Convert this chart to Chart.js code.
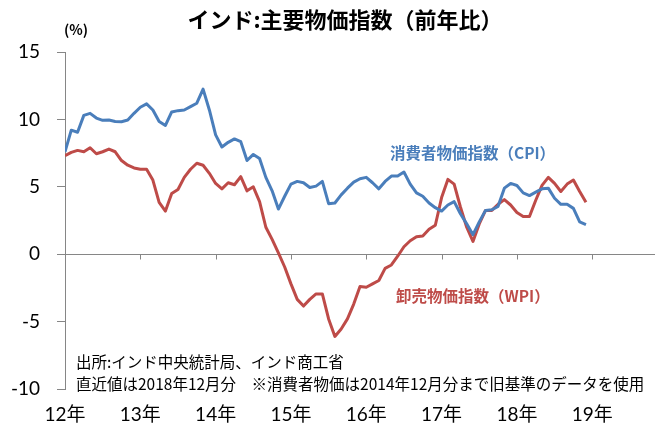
<!DOCTYPE html>
<html>
<head>
<meta charset="utf-8">
<script src="https://cdn.jsdelivr.net/npm/chart.js@4.4.0/dist/chart.umd.min.js"></script>
<style>
  html, body { margin: 0; padding: 0; background: #fff; }
</style>
</head>
<body>
<canvas id="chart" width="661" height="429"></canvas>
<script>
// 月次データ 2012年1月〜2018年12月（前年比、%）
const yearTicks = [0, 12, 24, 36, 48, 60, 72, 84];
const yearLabels = ['12年', '13年', '14年', '15年', '16年', '17年', '18年', '19年'];

const cpi = [
  7.6, 9.2, 9.05, 10.3, 10.45, 10.1, 9.93, 9.95, 9.85, 9.83, 9.95, 10.45,
  10.9, 11.15, 10.7, 9.85, 9.55, 10.55, 10.65, 10.7, 10.95, 11.2, 12.25, 10.7,
  8.85, 7.95, 8.3, 8.55, 8.35, 6.95, 7.4, 7.1, 5.7, 4.7, 3.35, 4.3,
  5.2, 5.4, 5.3, 4.95, 5.05, 5.4, 3.75, 3.8, 4.4, 4.9, 5.35, 5.6,
  5.7, 5.3, 4.85, 5.4, 5.8, 5.8, 6.1, 5.2, 4.55, 4.3, 3.8, 3.45,
  3.2, 3.65, 3.9, 3.0, 2.25, 1.45, 2.4, 3.25, 3.3, 3.55, 4.9, 5.25,
  5.1, 4.55, 4.35, 4.6, 4.85, 4.9, 4.15, 3.7, 3.7, 3.4, 2.4, 2.2
];
const wpi = [
  7.3, 7.55, 7.7, 7.6, 7.9, 7.45, 7.6, 7.8, 7.6, 6.95, 6.6, 6.4,
  6.3, 6.3, 5.5, 3.85, 3.2, 4.5, 4.8, 5.7, 6.3, 6.75, 6.6, 6.0,
  5.25, 4.85, 5.3, 5.15, 5.75, 4.7, 5.0, 3.9, 2.0, 1.1, 0.1, -0.95,
  -2.2, -3.35, -3.85, -3.35, -2.95, -2.95, -4.8, -6.1, -5.55, -4.8, -3.7, -2.4,
  -2.45, -2.2, -1.95, -1.05, -0.8, -0.15, 0.55, 1.0, 1.3, 1.35, 1.85, 2.15,
  4.2, 5.55, 5.2, 3.5, 2.0, 0.95, 2.25, 3.25, 3.25, 3.7, 4.05, 3.65,
  3.1, 2.8, 2.8, 4.0, 5.1, 5.7, 5.25, 4.65, 5.2, 5.5, 4.65, 3.85
];

const blue = '#4a7ebb';
const red = '#be4b48';
const axisGray = '#868686';
const jp = "'Noto Sans CJK JP', sans-serif";
const num = "Lato, 'Noto Sans CJK JP', sans-serif";

// 0の線と年の目盛り
const zeroLine = {
  id: 'zeroLine',
  beforeDatasetsDraw(chart) {
    const { ctx, chartArea, scales: { x, y } } = chart;
    const y0 = Math.round(y.getPixelForValue(0)) + 0.5;
    ctx.save();
    ctx.strokeStyle = axisGray;
    ctx.lineWidth = 1;
    ctx.beginPath();
    ctx.moveTo(chartArea.left, y0);
    ctx.lineTo(chartArea.right, y0);
    yearTicks.forEach(v => {
      const px = Math.round(x.getPixelForValue(v)) + 0.5;
      ctx.moveTo(px, y0);
      ctx.lineTo(px, y0 + 5);
    });
    ctx.stroke();
    ctx.restore();
  }
};

// タイトル・注記など
const texts = {
  id: 'texts',
  afterDraw(chart) {
    const ctx = chart.ctx;
    ctx.save();
    ctx.textBaseline = 'middle';
    ctx.fillStyle = '#000';
    ctx.textAlign = 'center';
    ctx.font = "bold 22px " + jp;
    ctx.fillText('インド:主要物価指数（前年比）', 345, 20);
    ctx.font = "bold 14px " + jp;
    ctx.fillText('(%)', 76, 30);

    ctx.textAlign = 'left';
    ctx.font = "bold 15.5px " + jp;
    ctx.fillStyle = blue;
    ctx.fillText('消費者物価指数（CPI）', 390, 153);
    ctx.fillStyle = red;
    ctx.fillText('卸売物価指数（WPI）', 396, 296);

    ctx.fillStyle = '#000';
    ctx.font = "15.5px " + jp;
    ctx.fillText('出所:インド中央統計局、インド商工省', 76, 362);
    ctx.fillText('直近値は2018年12月分　※消費者物価は2014年12月分まで旧基準のデータを使用', 76, 384);
    ctx.restore();
  }
};

const chart = new Chart(document.getElementById('chart'), {
  type: 'line',
  data: {
    datasets: [
      {
        label: '消費者物価指数（CPI）',
        data: cpi.map((v, i) => ({ x: i, y: v })),
        borderColor: blue,
        borderWidth: 3,
        pointRadius: 0,
        tension: 0,
        borderJoinStyle: 'round'
      },
      {
        label: '卸売物価指数（WPI）',
        data: wpi.map((v, i) => ({ x: i, y: v })),
        borderColor: red,
        borderWidth: 3,
        pointRadius: 0,
        tension: 0,
        borderJoinStyle: 'round'
      }
    ]
  },
  options: {
    responsive: false,
    animation: false,
    layout: { padding: { top: 52, right: 6, bottom: 0, left: 0 } },
    plugins: {
      legend: { display: false },
      title: { display: false },
      tooltip: { enabled: false }
    },
    scales: {
      x: {
        type: 'linear',
        min: 0,
        max: 94,
        grid: { display: false, drawTicks: false },
        border: { display: false },
        afterBuildTicks: s => { s.ticks = yearTicks.map(v => ({ value: v })); },
        afterFit: s => { s.height = 40; },
        ticks: {
          padding: 14,
          color: '#000',
          font: { family: num, size: 19 },
          maxRotation: 0,
          autoSkip: false,
          callback: (v, i) => yearLabels[i]
        }
      },
      y: {
        min: -10,
        max: 15,
        grid: { drawOnChartArea: false, tickLength: 8, color: axisGray },
        border: { color: axisGray },
        afterFit: s => { s.width = 65; },
        ticks: {
          stepSize: 5,
          padding: 17,
          color: '#000',
          font: { family: num, size: 19 }
        }
      }
    }
  },
  plugins: [zeroLine, texts]
});
</script>
</body>
</html>
